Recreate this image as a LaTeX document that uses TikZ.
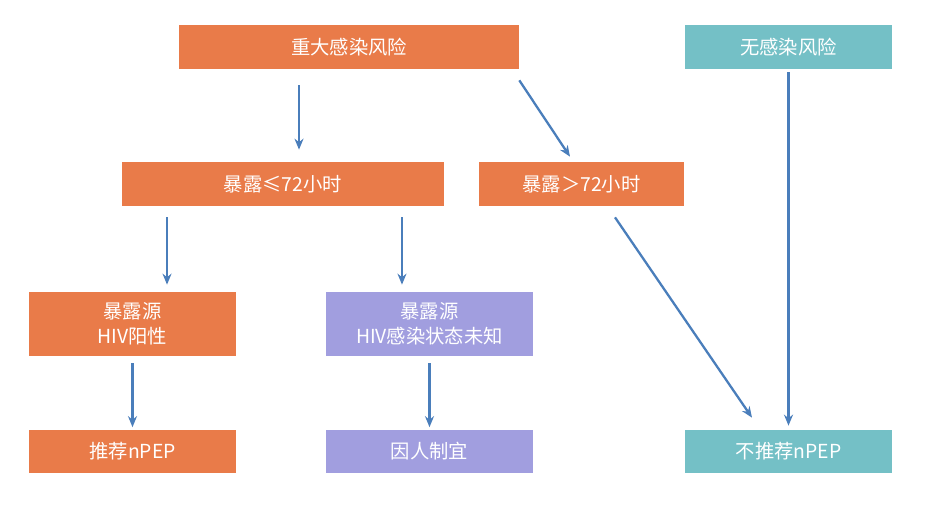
\documentclass[tikz,border=0pt]{standalone}
\usepackage{fontspec}
\setmainfont{Noto Sans CJK SC}
\usetikzlibrary{arrows.meta, positioning, calc}
\definecolor{corange}{HTML}{E97B49}
\definecolor{cpurple}{HTML}{A19EDF}
\definecolor{cteal}{HTML}{74C0C6}
\definecolor{cblue}{HTML}{4A7EBB}
\tikzset{
  every picture/.style={font=\fontsize{11}{14.2}\selectfont},
  box/.style={fill=#1, text=white, align=center, inner sep=2pt, minimum width=4.14cm, minimum height=0.88cm},
  box/.default=corange,
  arrow/.style={-{Stealth[length=2.2mm, width=1.8mm]}, draw=cblue, line width=1.3pt},
}
\begin{document}
\begin{tikzpicture}[x=0.02cm, y=-0.02cm]
  \useasboundingbox (0,0) rectangle (947,520);
  % first row
  \node[box, minimum width=6.8cm] (major) at (349,47) {重大感染风险};
  \node[box=cteal] (norisk) at (788.5,47) {无感染风险};
  % exposure time
  \node[box, minimum width=6.44cm] (short) at (283,184) {暴露≤72小时};
  \node[box, minimum width=4.1cm] (long) at (581.5,184) {暴露＞72小时};
  % source status
  \node[box, minimum height=1.28cm] (pos) at (132.5,324) {暴露源\\HIV阳性};
  \node[box=cpurple, minimum height=1.28cm] (unk) at (429.5,324) {暴露源\\HIV感染状态未知};
  % advice
  \node[box, minimum height=0.86cm] (rec) at (132.5,451.5) {推荐nPEP};
  \node[box=cpurple, minimum height=0.86cm] (case) at (429.5,451.5) {因人制宜};
  \node[box=cteal, minimum height=0.86cm] (norec) at (788.5,451.5) {不推荐nPEP};
  % arrows
  \draw[arrow, shorten <=0.32cm, shorten >=0.24cm] ([xshift=-1cm]major.south) -- ([xshift=-1cm]major.south |- short.north);
  \draw[arrow] ([yshift=-0.22cm]major.south east) -- ([xshift=-0.23cm, yshift=0.1cm]long.north);
  \draw[arrow, shorten <=0.22cm, shorten >=0.14cm] ([xshift=-2.32cm]short.south) -- ([xshift=-2.32cm]short.south |- pos.north);
  \draw[arrow, shorten <=0.22cm, shorten >=0.14cm] ([xshift=2.38cm]short.south) -- ([xshift=2.38cm]short.south |- unk.north);
  \draw[arrow, shorten <=0.14cm, shorten >=0.05cm] (pos) -- (rec);
  \draw[arrow, shorten <=0.14cm, shorten >=0.05cm] (unk) -- (case);
  \draw[arrow] ([xshift=0.67cm, yshift=-0.22cm]long.south) -- ([xshift=-0.73cm, yshift=0.24cm]norec.north);
  \draw[arrow, shorten <=0.06cm, shorten >=0.08cm] (norisk) -- (norec);
\end{tikzpicture}
\end{document}
